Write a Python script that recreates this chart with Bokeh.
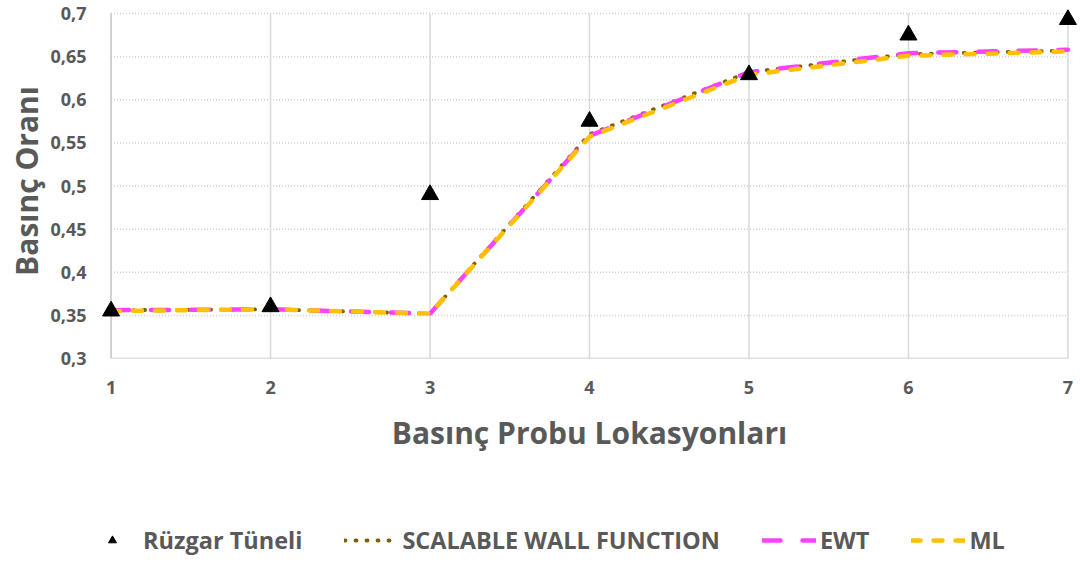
from bokeh.plotting import figure
from bokeh.layouts import column
from bokeh.models import Legend, LegendItem, FixedTicker
from bokeh.embed import file_html
from bokeh.resources import INLINE

# Probe locations and pressure ratios
locations = [1, 2, 3, 4, 5, 6, 7]
wind_tunnel = [0.355, 0.360, 0.490, 0.575, 0.629, 0.675, 0.693]
scalable_wall = [0.356, 0.357, 0.352, 0.560, 0.632, 0.653, 0.657]
ewt = [0.356, 0.357, 0.352, 0.558, 0.632, 0.654, 0.658]
ml = [0.355, 0.357, 0.352, 0.557, 0.629, 0.651, 0.656]

y_ticks = [0.3, 0.35, 0.4, 0.45, 0.5, 0.55, 0.6, 0.65, 0.7]
y_tick_labels = ["0,3", "0,35", "0,4", "0,45", "0,5", "0,55", "0,6", "0,65", "0,7"]
x_ticks = [1, 2, 3, 4, 5, 6, 7]
x_tick_labels = ["1", "2", "3", "4", "5", "6", "7"]

series_names = ["Rüzgar Tüneli", "SCALABLE WALL FUNCTION", "EWT", "ML"]

FONT = "Open Sans"
TEXT = "#595959"

# line styles per series
SWF_STYLE = dict(line_color="#7f6000", line_width=3.8, line_dash="1 10", line_cap="round")
EWT_STYLE = dict(line_color="#ff40ff", line_width=4.5, line_dash="18 22", line_cap="round")
ML_STYLE = dict(line_color="#ffc000", line_width=4.5, line_dash="9 13", line_cap="round")
WT_STYLE = dict(marker="triangle", size=17, fill_color="black", line_color="black")

# the data area reaches a little past the axes so the end markers are not cut
X_LO, X_HI = 1, 7
Y_LO, Y_HI = 0.3, 0.7
x_pad = 0.06
y_pad = 0.0116

p = figure(width=1080, height=480,
           x_range=(X_LO - x_pad, X_HI + x_pad), y_range=(Y_LO, Y_HI + y_pad),
           output_backend="svg", toolbar_location=None,
           min_border_left=101, min_border_right=3, min_border_top=3,
           min_border_bottom=122)
p.outline_line_color = None
p.background_fill_color = "white"
p.xgrid.visible = False
p.ygrid.visible = False

# axes (lines drawn separately so they stop at the last ticks)
p.xaxis.ticker = FixedTicker(ticks=x_ticks)
p.xaxis.major_label_overrides = {t: l for t, l in zip(x_ticks, x_tick_labels)}
p.yaxis.ticker = FixedTicker(ticks=y_ticks)
p.yaxis.major_label_overrides = {t: l for t, l in zip(y_ticks, y_tick_labels)}

for ax in (p.xaxis, p.yaxis):
    ax.major_tick_line_color = None
    ax.minor_tick_line_color = None
    ax.axis_line_color = None
    ax.major_label_text_font = FONT
    ax.major_label_text_font_style = "bold"
    ax.major_label_text_color = TEXT
    ax.major_label_text_font_size = "18px"
    ax.axis_label_text_font = FONT
    ax.axis_label_text_font_style = "bold"
    ax.axis_label_text_color = TEXT
    ax.axis_label_text_font_size = "30px"

p.xaxis.axis_label = "Basınç Probu Lokasyonları"
p.yaxis.axis_label = "Basınç Oranı"
p.xaxis.major_label_standoff = 16
p.xaxis.axis_label_standoff = 15
p.yaxis.major_label_standoff = 9
p.yaxis.axis_label_standoff = 0

# grid: dotted horizontal, solid vertical
hy = y_ticks[1:]
p.segment(x0=[X_LO] * len(hy), y0=hy, x1=[X_HI] * len(hy), y1=hy,
          line_color="#cccccc", line_width=1.5, line_dash="1 2")
vx = x_ticks[1:]
p.segment(x0=vx, y0=[Y_LO] * len(vx), x1=vx, y1=[Y_HI] * len(vx),
          line_color="#d9d9d9", line_width=1.5)
# axis lines
p.segment(x0=[X_LO, X_LO], y0=[Y_LO, Y_LO], x1=[X_LO, X_HI], y1=[Y_HI, Y_LO],
          line_color="#c4c4c4", line_width=1.5)

# series
p.line(locations, scalable_wall, **SWF_STYLE)
p.line(locations, ewt, **EWT_STYLE)
p.line(locations, ml, **ML_STYLE)
p.scatter(locations, wind_tunnel, **WT_STYLE)

# legend strip underneath the chart; its sample glyphs sit outside the view
lg = figure(width=1080, height=82, x_range=(0, 1), y_range=(0, 1),
            x_axis_type=None, y_axis_type=None,
            output_backend="svg", toolbar_location=None,
            min_border_left=0, min_border_right=0, min_border_top=0,
            min_border_bottom=0)
lg.grid.visible = False
lg.outline_line_color = None
k_wt = lg.scatter(x=[-5], y=[-5], **WT_STYLE)
k_swf = lg.line(x=[-5, -4], y=[-5, -5], **SWF_STYLE)
k_ewt = lg.line(x=[-5, -4], y=[-5, -5], **EWT_STYLE)
k_ml = lg.line(x=[-5, -4], y=[-5, -5], **ML_STYLE)

legend = Legend(items=[
    LegendItem(label=name, renderers=[r])
    for name, r in zip(series_names, [k_wt, k_swf, k_ewt, k_ml])
], orientation="horizontal", location=(-16, 6))
legend.padding = 0
legend.margin = 0
legend.border_line_alpha = 0
legend.background_fill_alpha = 0
legend.glyph_width = 54
legend.glyph_height = 20
legend.label_standoff = 4
legend.spacing = 42
legend.label_text_font = FONT
legend.label_text_font_style = "bold"
legend.label_text_color = TEXT
legend.label_text_font_size = "23.5px"
lg.add_layout(legend, "center")

open("out.html", "w").write(file_html(column(p, lg), INLINE))
